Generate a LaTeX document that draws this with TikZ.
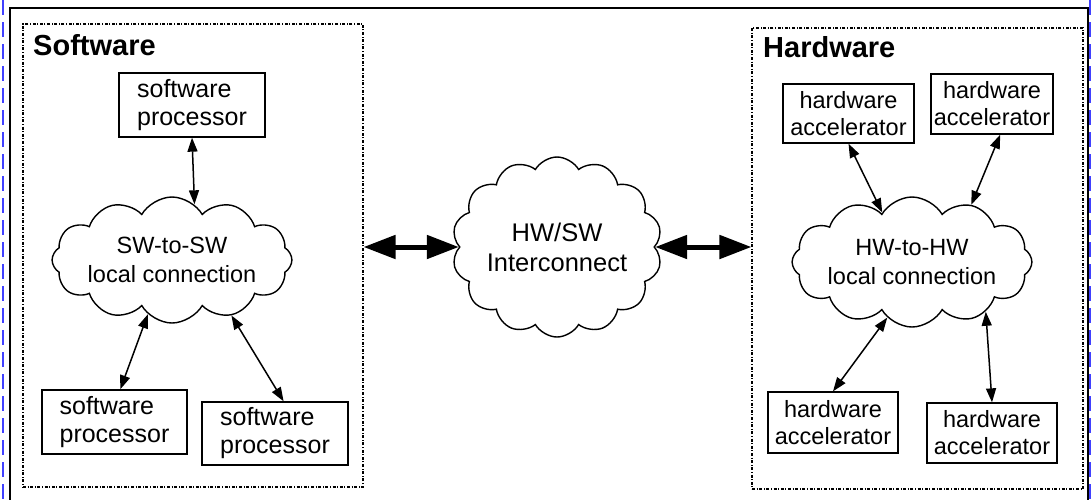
\documentclass[tikz,border=0pt]{standalone}
\usepackage{fontspec}
\setmainfont{Liberation Sans}
\usetikzlibrary{shapes.symbols,arrows.meta,calc}
\begin{document}
\begin{tikzpicture}[x=1pt,y=-1pt,
  group/.style={draw, line width=1.1pt, dash pattern=on 3pt off 1.6pt on 1pt off 1.6pt, inner sep=0pt},
  grouplabel/.style={font=\fontsize{29}{32}\selectfont\bfseries, anchor=base west, inner sep=0pt},
  swbox/.style={draw, line width=1.3pt, inner sep=0pt, align=left, font=\fontsize{25}{28}\selectfont},
  hwbox/.style={draw, line width=1.3pt, inner sep=0pt, align=center, font=\fontsize{23.5}{27}\selectfont},
  netcloud/.style={draw, cloud, cloud ignores aspect, line width=1.4pt, align=center, inner sep=0pt, font=\fontsize{23.5}{29}\selectfont},
  thin/.style={line width=1.5pt, {Triangle[length=14pt,width=10pt]}-{Triangle[length=14pt,width=10pt]}},
  thick/.style={line width=5pt, {Triangle[length=32pt,width=23pt]}-{Triangle[length=32pt,width=23pt]}}
]
\useasboundingbox (0,0) rectangle (1091,499);
% outer frame
\draw[line width=2.5pt] (10,540) -- (10,8) -- (1088,8) -- (1088,540);
\draw[blue!75, line width=2.5pt, dash pattern=on 15pt off 7pt] (3,0) -- (3,499);
\draw[blue!75, line width=2.5pt, dash pattern=on 15pt off 7pt] (1090,0) -- (1090,499);

% groups
\node[group, minimum width=340pt, minimum height=463pt] (swg) at (193,255.5) {};
\node[group, minimum width=331pt, minimum height=461pt] (hwg) at (917.5,258.5) {};
\node[grouplabel] (swl) at (33,55) {Software};
\node[grouplabel] (hwl) at (763,57) {Hardware};

% boxes
\node[swbox, minimum width=146pt, minimum height=64pt] (sw1) at (192,105) {software\\processor};
\node[swbox, minimum width=145pt, minimum height=64pt] (sw2) at (114.5,422) {software\\processor};
\node[swbox, minimum width=146pt, minimum height=63pt] (sw3) at (275,433.5) {software\\processor};
\node[hwbox, minimum width=131pt, minimum height=59pt] (hw1) at (848.5,113.5) {hardware\\accelerator};
\node[hwbox, minimum width=122pt, minimum height=60pt] (hw2) at (992,104) {hardware\\accelerator};
\node[hwbox, minimum width=130pt, minimum height=61pt] (hw3) at (833,422.5) {hardware\\accelerator};
\node[hwbox, minimum width=130pt, minimum height=60pt] (hw4) at (992,433) {hardware\\accelerator};

% clouds
\node[netcloud, cloud puffs=12, cloud puff arc=120, minimum width=220pt, minimum height=126pt] (swc) at (172,260) {SW-to-SW\\local connection};
\node[netcloud, cloud puffs=14, cloud puff arc=120, minimum width=210pt, minimum height=180pt, font=\fontsize{25.5}{30}\selectfont] (cc) at (557,247) {HW/SW\\Interconnect};
\node[netcloud, cloud puffs=12, cloud puff arc=120, minimum width=222pt, minimum height=130pt] (hwc) at (912,262) {HW-to-HW\\local connection};

% thin arrows
\draw[thin] (sw1.south) -- (swc.68);
\draw[thin] (swc.246) -- (sw2.80);
\draw[thin] (swc.317) -- (sw3.75);
\draw[thin] (hw1.south) -- (hwc.121);
\draw[thin] (hw2.285) -- (hwc.44);
\draw[thin] (hwc.246) -- (hw3.north);
\draw[thin] (hwc.326) -- (hw4.north);

% thick arrows
\draw[thick] (swg.east |- cc.west) -- (cc.west);
\draw[thick] (cc.east) -- (hwg.west |- cc.east);
\end{tikzpicture}
\end{document}
